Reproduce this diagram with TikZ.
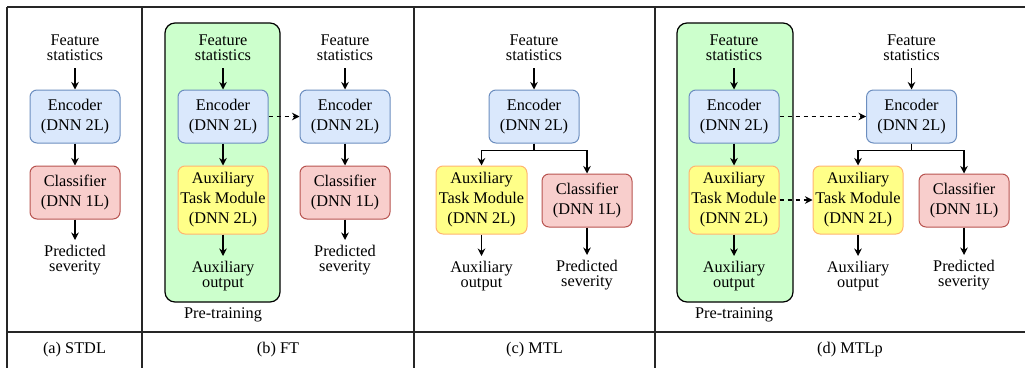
\documentclass[tikz,border=0pt]{standalone}
\usepackage{fontspec}
\setmainfont{Liberation Serif}
\usetikzlibrary{arrows.meta}

\definecolor{encfill}{HTML}{DAE8FC}
\definecolor{encdraw}{HTML}{6C8EBF}
\definecolor{clsfill}{HTML}{F8CECC}
\definecolor{clsdraw}{HTML}{B85450}
\definecolor{auxfill}{HTML}{FFFF88}
\definecolor{auxdraw}{HTML}{FFB570}
\definecolor{pregreen}{HTML}{CCFFCC}

\begin{document}
\begin{tikzpicture}[x=1pt,y=-1pt,
  box/.style={draw, rounded corners=7pt, line width=1pt, minimum width=90pt,
    align=center, inner xsep=1pt, inner ysep=0pt, font=\fontsize{16.3}{20}\selectfont},
  encbox/.style={box, fill=encfill, draw=encdraw, minimum height=53pt},
  clsbox/.style={box, fill=clsfill, draw=clsdraw, minimum height=53pt},
  auxbox/.style={box, fill=auxfill, draw=auxdraw, minimum height=68pt},
  intext/.style={align=center, inner xsep=2pt, inner ysep=7.5pt, font=\fontsize{16.3}{15}\selectfont},
  outtext/.style={align=center, inner xsep=2pt, inner ysep=4.5pt, anchor=north, font=\fontsize{16.3}{15.5}\selectfont},
  plaintext/.style={font=\fontsize{16.3}{18}\selectfont, inner sep=0pt},
  flow/.style={-{Stealth[length=7.5pt,width=7.5pt]}, line width=1.2pt},
  copyflow/.style={flow, dash pattern=on 4pt off 4pt},
  pretrain/.style={draw=black, line width=1.2pt, fill=pregreen, rounded corners=10pt},
  rule/.style={line width=1.2pt, draw=black!85}]

\useasboundingbox (0,0) rectangle (1025,367);

% table frame
\draw[rule] (7,7) -- (1030,7);
\draw[rule] (7,332) -- (1030,332);
\foreach \cx in {7,142,414,655} \draw[rule] (\cx,7) -- (\cx,372);

% (a) STDL
\node[intext] (a-in) at (75,47.6) {Feature\\statistics};
\node[encbox] (a-enc) at (75,116.5) {Encoder\\(DNN 2L)};
\node[clsbox] (a-cls) at (75,192.5) {Classifier\\(DNN 1L)};
\node[outtext] (a-out) at (75,240) {Predicted\\severity};
\draw[flow] (a-in) -- (a-enc);
\draw[flow] (a-enc) -- (a-cls);
\draw[flow] (a-cls) -- (a-out);

% (b) FT
\node[pretrain, minimum width=115pt, minimum height=279pt] (b-pre) at (222.5,162.5) {};
\node[intext] (b-in1) at (223,47.6) {Feature\\statistics};
\node[encbox] (b-enc1) at (223,116.5) {Encoder\\(DNN 2L)};
\node[auxbox] (b-aux1) at (223,200) {Auxiliary\\Task Module\\(DNN 2L)};
\node[outtext] (b-aout1) at (223,256) {Auxiliary\\output};
\node[plaintext] (b-pt) at (223,315) {Pre-training};
\draw[flow] (b-in1) -- (b-enc1);
\draw[flow] (b-enc1) -- (b-aux1);
\draw[flow] (b-aux1) -- (b-aout1);

\node[intext] (b-in2) at (345,47.6) {Feature\\statistics};
\node[encbox] (b-enc2) at (345,116.5) {Encoder\\(DNN 2L)};
\node[clsbox] (b-cls2) at (345,192.5) {Classifier\\(DNN 1L)};
\node[outtext] (b-out2) at (345,240) {Predicted\\severity};
\draw[flow] (b-in2) -- (b-enc2);
\draw[flow] (b-enc2) -- (b-cls2);
\draw[flow] (b-cls2) -- (b-out2);
\draw[copyflow] (b-enc1) -- (b-enc2);

% (c) MTL
\node[intext] (c-in) at (534,47.6) {Feature\\statistics};
\node[encbox] (c-enc) at (534,116.5) {Encoder\\(DNN 2L)};
\node[auxbox, minimum width=91pt] (c-aux) at (481.5,200) {Auxiliary\\Task Module\\(DNN 2L)};
\node[clsbox] (c-cls) at (587,200.5) {Classifier\\(DNN 1L)};
\node[outtext] (c-aout) at (481.5,256) {Auxiliary\\output};
\node[outtext] (c-out) at (587,255) {Predicted\\severity};
\draw[flow] (c-in) -- (c-enc);
\draw[flow] (c-enc.south) -- ++(0,7) -| (c-aux.north);
\draw[flow] (c-enc.south) -- ++(0,7) -| (c-cls.north);
\draw[flow] (c-aux) -- (c-aout);
\draw[flow] (c-cls) -- (c-out);

% (d) MTLp
\node[pretrain, minimum width=116pt, minimum height=279pt] (d-pre) at (735,162.5) {};
\node[intext] (d-in1) at (734,47.6) {Feature\\statistics};
\node[encbox] (d-enc1) at (734,116.5) {Encoder\\(DNN 2L)};
\node[auxbox] (d-aux1) at (734,200) {Auxiliary\\Task Module\\(DNN 2L)};
\node[outtext] (d-aout1) at (734,256) {Auxiliary\\output};
\node[plaintext] (d-pt) at (734,315) {Pre-training};
\draw[flow] (d-in1) -- (d-enc1);
\draw[flow] (d-enc1) -- (d-aux1);
\draw[flow] (d-aux1) -- (d-aout1);

\node[intext] (d-in2) at (911.5,47.6) {Feature\\statistics};
\node[encbox] (d-enc2) at (911.5,116.5) {Encoder\\(DNN 2L)};
\node[auxbox] (d-aux2) at (858,200) {Auxiliary\\Task Module\\(DNN 2L)};
\node[clsbox] (d-cls2) at (964,200.5) {Classifier\\(DNN 1L)};
\node[outtext] (d-aout2) at (858,256) {Auxiliary\\output};
\node[outtext] (d-out2) at (964,255) {Predicted\\severity};
\draw[flow] (d-in2) -- (d-enc2);
\draw[flow] (d-enc2.south) -- ++(0,7) -| (d-aux2.north);
\draw[flow] (d-enc2.south) -- ++(0,7) -| (d-cls2.north);
\draw[flow] (d-aux2) -- (d-aout2);
\draw[flow] (d-cls2) -- (d-out2);
\draw[copyflow] (d-enc1) -- (d-enc2);
\draw[copyflow] (d-aux1) -- (d-aux2);

% captions
\node[plaintext] (cap-a) at (74.5,350) {(a) STDL};
\node[plaintext] (cap-b) at (278,350) {(b) FT};
\node[plaintext] (cap-c) at (534.5,350) {(c) MTL};
\node[plaintext] (cap-d) at (850,350) {(d) MTLp};

\end{tikzpicture}
\end{document}
